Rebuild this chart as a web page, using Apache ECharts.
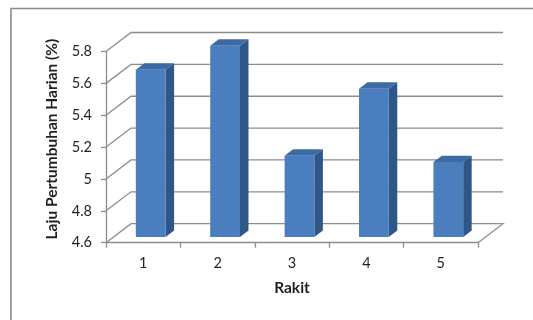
<!DOCTYPE html>
<html>
<head>
<meta charset="utf-8">
<script src="https://cdn.jsdelivr.net/npm/echarts@6/dist/echarts.min.js"></script>
<style>
  html, body { margin: 0; padding: 0; background: #fff; }
  #chart { width: 533px; height: 320px; }
</style>
</head>
<body>
<div id="chart"></div>
<script>
// Daily growth rate per raft
const categories = ['1', '2', '3', '4', '5'];
const values = [5.65, 5.80, 5.11, 5.53, 5.07];
const yTicks = [4.6, 4.8, 5.0, 5.2, 5.4, 5.6, 5.8];
const yMin = 4.6, yMax = 5.8, yStep = 0.2;

// Oblique depth of the 3D box (pixels), and where the columns sit inside it
const DX = 25, DY = 19;
const BAR_FRONT = 0.30, BAR_DEPTH = 0.34, BAR_WIDTH = 0.40;

const FONT = 'Lato, "Open Sans", sans-serif';
const TEXT = '#1f1f1f';
const GRID = '#8c8c8c';

const chart = echarts.init(document.getElementById('chart'), null, { renderer: 'canvas' });

function renderWall(params, api) {
  const cs = params.coordSys;
  const v = api.value(1);
  const y = api.coord([0, v])[1];
  const x0 = cs.x, x1 = cs.x + cs.width;
  const pts = [[x0, y], [x0 + DX, y - DY], [x1 + DX, y - DY]];
  if (params.dataIndex === 0) pts.push([x1, y]);
  return {
    type: 'polyline',
    shape: { points: pts },
    style: { stroke: GRID, lineWidth: 1.3, fill: null },
    silent: true
  };
}

function renderColumn(params, api) {
  const idx = api.value(0), v = api.value(1);
  const top = api.coord([idx, v]);
  const base = api.coord([idx, yMin]);
  const w = api.size([1, 0])[0] * BAR_WIDTH;
  const ox = DX * BAR_FRONT, oy = DY * BAR_FRONT;
  const dx = DX * BAR_DEPTH, dy = DY * BAR_DEPTH;
  const xl = top[0] - w / 2 + ox, xr = xl + w;
  const yt = top[1] - oy, yb = base[1] - oy;
  return {
    type: 'group',
    children: [
      { type: 'polygon', shape: { points: [[xr, yb], [xr, yt], [xr + dx, yt - dy], [xr + dx, yb - dy]] },
        style: { fill: '#2e5688' } },
      { type: 'polygon', shape: { points: [[xl, yt], [xr, yt], [xr + dx, yt - dy], [xl + dx, yt - dy]] },
        style: { fill: '#3d6aa3' } },
      { type: 'rect', shape: { x: xl, y: yt, width: w, height: yb - yt },
        style: { fill: '#4a7ebe' } }
    ]
  };
}

chart.setOption({
  animation: false,
  backgroundColor: '#ffffff',
  graphic: [{
    type: 'rect', z: -10, silent: true,
    shape: { x: 11, y: 8.5, width: 700, height: 500 },
    style: { fill: null, stroke: '#8b8b8b', lineWidth: 1.6 }
  }],
  grid: { left: 106, right: 55, top: 51.5, bottom: 77.3, containLabel: false },
  xAxis: {
    type: 'category',
    data: categories,
    boundaryGap: true,
    axisLine: { lineStyle: { color: GRID, width: 1.3 } },
    axisTick: { show: true, length: 5, lineStyle: { color: GRID, width: 1.3 } },
    axisLabel: { margin: 13, fontSize: 14.5, color: TEXT, fontFamily: FONT },
    name: 'Rakit',
    nameLocation: 'middle',
    nameGap: 37,
    nameTextStyle: { fontSize: 15.5, fontWeight: 'bold', color: TEXT, fontFamily: FONT },
    splitLine: { show: false }
  },
  yAxis: {
    type: 'value',
    min: yMin, max: yMax, interval: yStep,
    axisLine: { show: true, lineStyle: { color: GRID, width: 1.3 } },
    axisTick: { show: true, length: 5, lineStyle: { color: GRID, width: 1.3 } },
    axisLabel: { margin: 14, fontSize: 14.5, color: TEXT, fontFamily: FONT },
    splitLine: { show: false },
    name: 'Laju Pertumbuhan Harian (%)',
    nameLocation: 'middle',
    nameRotate: 90,
    nameGap: 46,
    nameTextStyle: { fontSize: 15.5, fontWeight: 'bold', color: TEXT, fontFamily: FONT, padding: [0, 0, 0, 16] }
  },
  series: [
    {
      type: 'custom', name: 'walls', z: 1, silent: true,
      renderItem: renderWall,
      data: yTicks.map(v => [0, v])
    },
    {
      type: 'custom', name: 'Rakit', z: 2,
      renderItem: renderColumn,
      data: values.map((v, i) => [i, v])
    }
  ]
});
</script>
</body>
</html>
